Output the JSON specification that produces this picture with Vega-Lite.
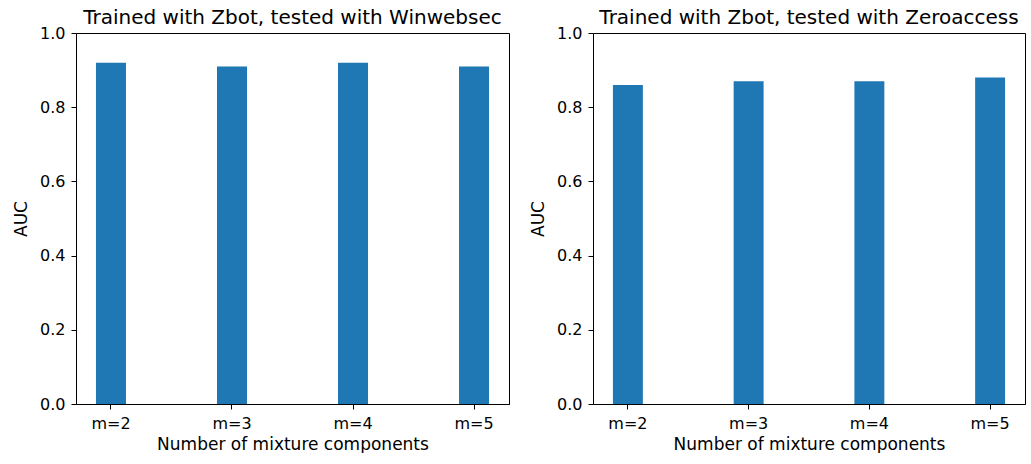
{
  "$schema": "https://vega.github.io/schema/vega-lite/v6.json",
  "padding": {"left": 12, "top": 7, "right": 0, "bottom": 0},
  "background": "white",
  "bounds": "flush",
  "spacing": 84,
  "config": {
    "font": "DejaVu Sans",
    "view": {"stroke": "black", "strokeWidth": 1},
    "axis": {
      "grid": false,
      "domainColor": "black",
      "tickColor": "black",
      "tickSize": 5,
      "labelColor": "black",
      "titleColor": "black",
      "labelFont": "DejaVu Sans",
      "titleFont": "DejaVu Sans",
      "labelFontSize": 16,
      "titleFontSize": 17,
      "titleFontWeight": "normal",
      "labelPadding": 6
    },
    "title": {"font": "DejaVu Sans", "fontSize": 20, "fontWeight": "normal", "color": "black", "offset": -3}
  },
  "datasets": {
    "left": [
      {"m": "m=2", "auc": 0.92},
      {"m": "m=3", "auc": 0.91},
      {"m": "m=4", "auc": 0.92},
      {"m": "m=5", "auc": 0.91}
    ],
    "right": [
      {"m": "m=2", "auc": 0.86},
      {"m": "m=3", "auc": 0.87},
      {"m": "m=4", "auc": 0.87},
      {"m": "m=5", "auc": 0.88}
    ]
  },
  "hconcat": [
    {
      "title": "Trained with Zbot, tested with Winwebsec",
      "width": 433,
      "height": 371,
      "data": {"name": "left"},
      "mark": {"type": "bar", "color": "#1f77b4"},
      "encoding": {
        "x": {
          "field": "m", "type": "nominal",
          "scale": {"paddingInner": 0.752, "paddingOuter": 0.165},
          "axis": {"title": "Number of mixture components", "labelAngle": 0, "titlePadding": 5}
        },
        "y": {
          "field": "auc", "type": "quantitative",
          "scale": {"domain": [0, 1]},
          "axis": {"title": "AUC", "format": ".1f", "values": [0, 0.2, 0.4, 0.6, 0.8, 1.0], "titlePadding": 9}
        }
      }
    },
    {
      "title": "Trained with Zbot, tested with Zeroaccess",
      "width": 432,
      "height": 371,
      "data": {"name": "right"},
      "mark": {"type": "bar", "color": "#1f77b4"},
      "encoding": {
        "x": {
          "field": "m", "type": "nominal",
          "scale": {"paddingInner": 0.752, "paddingOuter": 0.165},
          "axis": {"title": "Number of mixture components", "labelAngle": 0, "titlePadding": 5}
        },
        "y": {
          "field": "auc", "type": "quantitative",
          "scale": {"domain": [0, 1]},
          "axis": {"title": "AUC", "format": ".1f", "values": [0, 0.2, 0.4, 0.6, 0.8, 1.0], "titlePadding": 9}
        }
      }
    }
  ]
}
